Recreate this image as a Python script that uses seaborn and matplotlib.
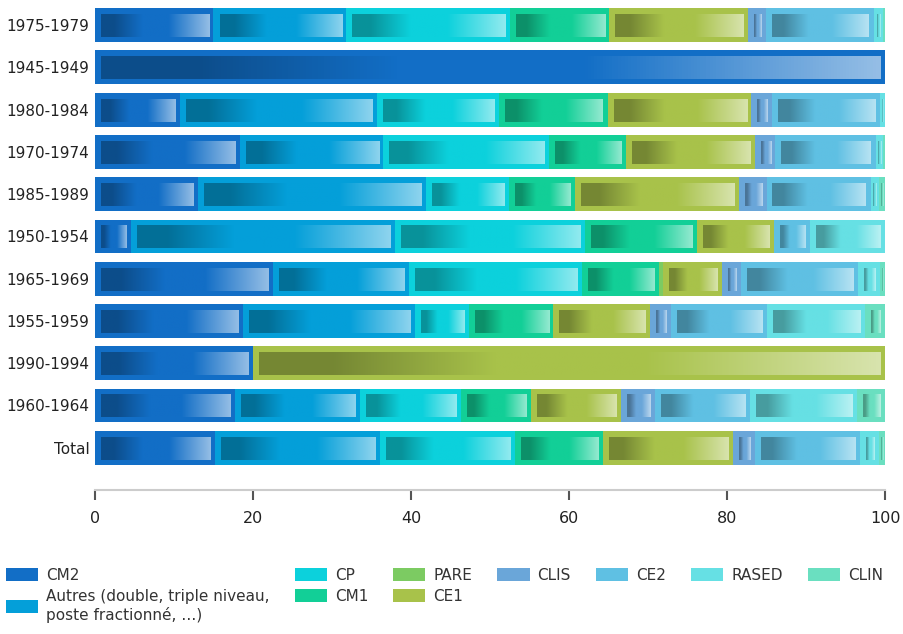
import numpy as np
import pandas as pd
import matplotlib
matplotlib.use('Agg')
import matplotlib.pyplot as plt
import seaborn as sns
from matplotlib.colors import LinearSegmentedColormap, to_rgb
from matplotlib.patches import Patch

# Periods, top to bottom
periods = ["1975-1979", "1945-1949", "1980-1984", "1970-1974", "1985-1989",
           "1950-1954", "1965-1969", "1955-1959", "1990-1994", "1960-1964", "Total"]

# Share (%) of each class type per period
cm2 = [15.0, 100.0, 10.7, 18.3, 13.1, 4.6, 22.5, 18.7, 20.0, 17.7, 15.2]
autres = [16.8, 0.0, 25.0, 18.2, 28.8, 33.4, 17.2, 21.8, 0.0, 15.8, 20.9]
cp = [20.7, 0.0, 15.5, 21.0, 10.5, 24.0, 21.9, 6.8, 0.0, 12.8, 17.1]
cm1 = [12.6, 0.0, 13.7, 9.7, 8.4, 14.2, 9.8, 10.7, 0.0, 8.9, 11.1]
pare = [0.0, 0.0, 0.0, 0.0, 0.0, 0.0, 0.5, 0.0, 0.0, 0.0, 0.0]
ce1 = [17.6, 0.0, 18.2, 16.3, 20.7, 9.7, 7.5, 12.3, 80.0, 11.4, 16.4]
clis = [2.3, 0.0, 2.6, 2.6, 3.5, 0.0, 2.4, 2.6, 0.0, 4.3, 2.8]
ce2 = [13.6, 0.0, 13.7, 12.7, 13.2, 4.6, 14.8, 12.2, 0.0, 12.0, 13.3]
rased = [1.2, 0.0, 0.6, 1.0, 1.1, 9.5, 2.8, 12.4, 0.0, 13.5, 2.4]
clin = [0.2, 0.0, 0.0, 0.2, 0.7, 0.0, 0.6, 2.5, 0.0, 3.6, 0.8]

categories = ["CM2", "Autres", "CP", "CM1", "PARE", "CE1", "CLIS", "CE2", "RASED", "CLIN"]
legend_labels = ["CM2", "Autres (double, triple niveau,\nposte fractionné, …)", "CP", "CM1",
                 "PARE", "CE1", "CLIS", "CE2", "RASED", "CLIN"]
colors = {"CM2": "#126EC6", "Autres": "#049FD9", "CP": "#0CD1DC", "CM1": "#12CF97",
          "PARE": "#7CCB62", "CE1": "#A8C24A", "CLIS": "#6AA6D9", "CE2": "#5FC0E3",
          "RASED": "#66E0E4", "CLIN": "#6ADFC0"}

df = pd.DataFrame({"CM2": cm2, "Autres": autres, "CP": cp, "CM1": cm1, "PARE": pare,
                   "CE1": ce1, "CLIS": clis, "CE2": ce2, "RASED": rased, "CLIN": clin},
                  index=periods)
cum = df.cumsum(axis=1)

sns.set_theme(style="white")
plt.rcParams['font.family'] = ['DejaVu Sans']

fig = plt.figure(figsize=(9.04, 6.34), dpi=100)
ax = fig.add_axes([95 / 904, 1 - 490 / 634, 790 / 904, 486 / 634])

# stacked bars: draw cumulative totals from the last category back
for name in reversed(categories):
    sns.barplot(x=cum[name].values, y=periods, order=periods, orient="h",
                color=colors[name], saturation=1, width=0.8, linewidth=0,
                edgecolor="none", ax=ax)

xlim = (0, 100)
ylim = (11.0, -0.5)
ax.set_xlim(*xlim)
ax.set_ylim(*ylim)

# inner gradient panel on every segment (dark -> base -> light)
px_x = ax.bbox.width / (xlim[1] - xlim[0])
px_y = ax.bbox.height / (ylim[0] - ylim[1])
grad = np.linspace(0, 1, 256).reshape(1, -1)
for name in categories:
    base = np.array(to_rgb(colors[name]))
    dark = base * 0.7
    light = base + (1 - base) * 0.55
    cmap = LinearSegmentedColormap.from_list(
        name, [(0, dark), (0.12, dark), (0.38, base), (0.62, base), (1, light)])
    lefts = (cum[name] - df[name]).values
    widths = df[name].values
    for j, (lft, w) in enumerate(zip(lefts, widths)):
        w_px = w * px_x
        if w_px < 4:
            continue
        if w_px < 16:
            l_in, r_in = w_px * 0.3, w_px * 0.3
        else:
            l_in, r_in = 6, 4.5
        x0 = lft + l_in / px_x
        x1 = lft + w - r_in / px_x
        y0 = j - 0.4 + 6.5 / px_y
        y1 = j + 0.4 - 5 / px_y
        ax.imshow(grad, cmap=cmap, aspect="auto", interpolation="bilinear",
                  extent=(x0, x1, y1, y0), zorder=3)

ax.set_xlim(*xlim)
ax.set_ylim(*ylim)
ax.set_xticks([0, 20, 40, 60, 80, 100])
ax.set_xlabel("")
ax.set_ylabel("")

for side in ["top", "right", "left"]:
    ax.spines[side].set_visible(False)
ax.spines["bottom"].set_color("#cccccc")
ax.spines["bottom"].set_linewidth(1.5)

ax.tick_params(axis="x", bottom=True, direction="out", length=7, width=1.5,
               color="#555555", pad=8, labelsize=11.5, labelcolor="#222222")
ax.tick_params(axis="y", left=False, length=0, pad=4, labelsize=11, labelcolor="#222222")

handles = [Patch(facecolor=colors[c], edgecolor="none") for c in categories]
fig.legend(handles, legend_labels, ncol=7, loc="upper left",
           bbox_to_anchor=(6 / 904, 1 - 568 / 634), frameon=False, fontsize=11,
           handlelength=2.1, handleheight=0.95, handletextpad=0.52,
           columnspacing=1.65, labelspacing=0.4, borderpad=0, borderaxespad=0,
           labelcolor="#333333")

fig.savefig("out.png", dpi=100)
